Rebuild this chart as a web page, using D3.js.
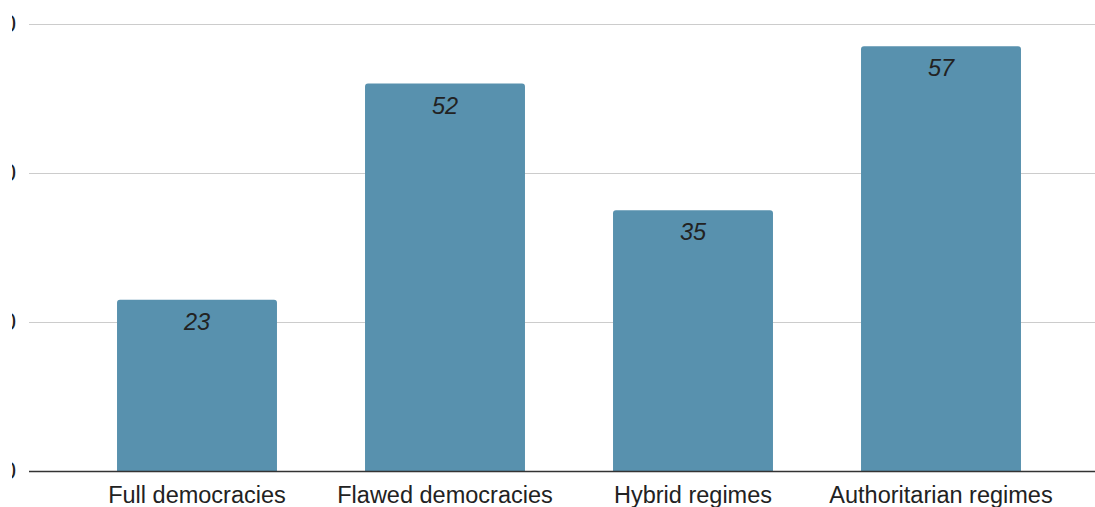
<!DOCTYPE html>
<html><head><meta charset="utf-8">
<script src="https://cdn.jsdelivr.net/npm/d3@7"></script>
<style>body{margin:0;background:#fff}svg{display:block}</style>
</head><body>
<svg id="c" width="1095" height="507"></svg>
<script>
const categories = ["Full democracies", "Flawed democracies", "Hybrid regimes", "Authoritarian regimes"];
const values = [23, 52, 35, 57];
const tickValues = [0, 20, 40, 60];

const svg = d3.select("#c");
const font = "'Liberation Sans', Arial, sans-serif";
const x = d3.scaleBand().domain(categories).range([73, 1065]).paddingInner(0.355).paddingOuter(0.1775);
const y = d3.scaleLinear().domain([0, 60]).range([471, 24]);

// gridlines
svg.append("g").selectAll("line").data(tickValues.filter(d => d !== 0)).join("line")
  .attr("x1", 29).attr("x2", 1095).attr("y1", d => y(d) + 0.5).attr("y2", d => y(d) + 0.5)
  .attr("stroke", "#cccccc").attr("stroke-width", 1.2);

// tick labels (clipped at the left edge as in the reference)
svg.append("clipPath").attr("id", "lc").append("rect").attr("x", 12).attr("y", 0).attr("width", 20).attr("height", 507);
svg.append("g").attr("clip-path", "url(#lc)").selectAll("text").data(tickValues).join("text")
  .attr("x", 16).attr("y", d => y(d)).attr("dy", "0.35em").attr("text-anchor", "end")
  .attr("font-family", font).attr("font-size", 23.5).attr("fill", "#222").text(d => d);

// bars with rounded top corners
const r = 3;
svg.append("g").selectAll("path").data(values).join("path")
  .attr("fill", "#5891ae")
  .attr("d", (d, i) => {
    const x0 = x(categories[i]), w = x.bandwidth(), y0 = y(d), yb = y(0);
    return `M${x0},${yb}V${y0 + r}Q${x0},${y0} ${x0 + r},${y0}H${x0 + w - r}Q${x0 + w},${y0} ${x0 + w},${y0 + r}V${yb}Z`;
  });

// value labels
svg.append("g").selectAll("text").data(values).join("text")
  .attr("x", (d, i) => x(categories[i]) + x.bandwidth() / 2).attr("y", d => y(d) + 30)
  .attr("text-anchor", "middle").attr("font-family", font).attr("font-size", 23.5)
  .attr("font-style", "italic").attr("fill", "#222").text(d => d);

// baseline
svg.append("line").attr("x1", 29).attr("x2", 1095).attr("y1", y(0) + 0.5).attr("y2", y(0) + 0.5)
  .attr("stroke", "#333").attr("stroke-width", 1.6);

// category labels
const xa = svg.append("g").attr("transform", `translate(0,${y(0)})`)
  .call(d3.axisBottom(x).tickSize(0).tickPadding(0));
xa.select(".domain").remove();
xa.selectAll("text").attr("font-family", font).attr("font-size", 23.5).attr("fill", "#222")
  .attr("dy", null).attr("y", 32);
</script>
</body></html>
